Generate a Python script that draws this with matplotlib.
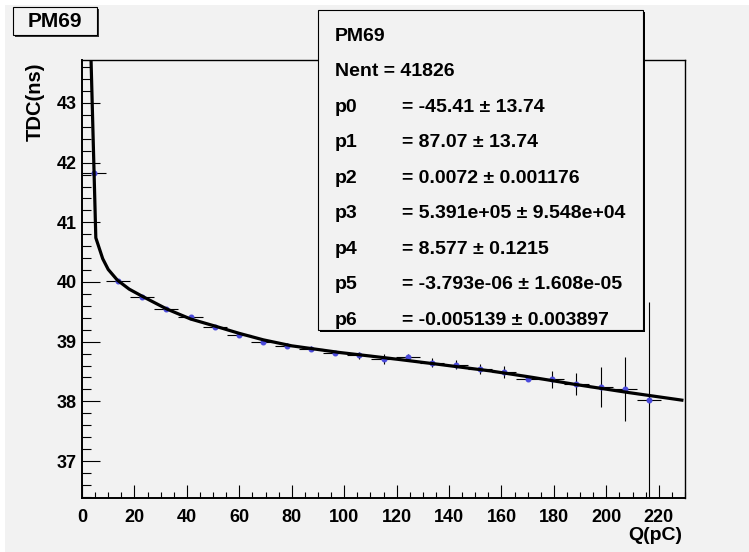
import matplotlib
matplotlib.use("Agg")
import matplotlib.pyplot as plt
import numpy as np
from matplotlib.patches import Rectangle
from matplotlib.ticker import MultipleLocator

W, H = 749, 552
BG = '#f2f2f2'

# profile points (bin centres, mean TDC, errors)
q_centers = [4.6, 13.8, 23.0, 32.2, 41.4, 50.6, 59.8, 69.0, 78.2, 87.4, 96.6, 105.8,
             115.0, 124.2, 133.4, 142.6, 151.8, 161.0, 170.2, 179.4, 188.6, 197.8, 207.0, 216.2]
tdc_mean = [41.83, 40.02, 39.74, 39.54, 39.41, 39.25, 39.11, 39.00, 38.93, 38.88, 38.81, 38.77,
            38.71, 38.75, 38.65, 38.61, 38.54, 38.49, 38.38, 38.37, 38.29, 38.24, 38.21, 38.03]
tdc_err = [0.02, 0.02, 0.02, 0.02, 0.03, 0.03, 0.03, 0.03, 0.04, 0.04, 0.04, 0.055,
           0.08, 0.04, 0.08, 0.075, 0.09, 0.10, 0.04, 0.14, 0.19, 0.34, 0.54, 1.63]
q_halfwidth = 4.6

# fitted curve
fit_q = [3.28, 5.27, 7.9, 10.0, 13.5, 18.0, 23.0, 32.2, 41.4, 50.8, 59.9, 69.2, 80.0,
         98.0, 117.5, 136.0, 155.7, 172.0, 188.6, 208.0, 228.8]
fit_tdc = [44.0, 40.74, 40.39, 40.21, 40.03, 39.88, 39.76, 39.55, 39.38, 39.26, 39.14, 39.03, 38.93,
           38.82, 38.72, 38.62, 38.51, 38.40, 38.28, 38.15, 38.02]

stat_labels = ['PM69', 'Nent = 41826', 'p0', 'p1', 'p2', 'p3', 'p4', 'p5', 'p6']
stat_values = ['', '', '= -45.41 \u00b1 13.74', '= 87.07 \u00b1 13.74', '= 0.0072 \u00b1 0.001176',
               '= 5.391e+05 \u00b1 9.548e+04', '= 8.577 \u00b1 0.1215',
               '= -3.793e-06 \u00b1 1.608e-05', '= -0.005139 \u00b1 0.003897']


def px(x, y):
    return x / W, 1 - y / H


plt.rcParams['font.family'] = ['Liberation Sans', 'DejaVu Sans']
plt.rcParams['font.weight'] = 'bold'

fig = plt.figure(figsize=(W / 100, H / 100), dpi=100, facecolor='white')
fig.patches.append(Rectangle((5 / W, 0), 1, (H - 5) / H, transform=fig.transFigure,
                             facecolor=BG, edgecolor='none', zorder=-10))

x0, y0 = px(82, 498)
x1, y1 = px(685, 60)
ax = fig.add_axes([x0, y0, x1 - x0, y1 - y0])
ax.set_facecolor(BG)

ax.errorbar(q_centers, tdc_mean, yerr=tdc_err, xerr=q_halfwidth, fmt='none',
            ecolor='black', elinewidth=0.8, capsize=0, zorder=2)
ax.plot(q_centers, tdc_mean, 'o', color='#4b4bdc', markersize=3.3, zorder=3)
ax.plot(fit_q, fit_tdc, color='black', linewidth=2.3, zorder=4)

ax.set_xlim(0, 230)
ax.set_ylim(36.38, 43.72)
ax.xaxis.set_major_locator(MultipleLocator(20))
ax.xaxis.set_minor_locator(MultipleLocator(5))
ax.yaxis.set_major_locator(MultipleLocator(1))
ax.yaxis.set_minor_locator(MultipleLocator(0.2))
ax.tick_params(axis='x', which='major', direction='in', length=9.1, width=0.8,
               labelsize=13, pad=8.0, top=False)
ax.tick_params(axis='x', which='minor', direction='in', length=4.4, width=0.8, top=False)
ax.tick_params(axis='y', which='major', direction='in', length=12.7, width=0.8,
               labelsize=13, pad=3.6, right=False)
ax.tick_params(axis='y', which='minor', direction='in', length=6.5, width=0.8, right=False)
for lab in ax.get_xticklabels() + ax.get_yticklabels():
    lab.set_fontweight('bold')
for side in ['left', 'bottom']:
    ax.spines[side].set_linewidth(1.4)
for side in ['top', 'right']:
    ax.spines[side].set_linewidth(1.0)

fig.text(*px(682.7, 535), 'Q(pC)', ha='right', va='center', fontsize=14, fontweight='bold')
fig.text(*px(35, 62), 'TDC(ns)', rotation=90, ha='center', va='top', fontsize=14.5,
         fontweight='bold')

# title box
fig.patches.append(Rectangle(px(15.3, 37), (83.4) / W, 27.7 / H, transform=fig.transFigure,
                             facecolor='#333333', edgecolor='none', zorder=5))
fig.patches.append(Rectangle(px(13.3, 35), (83.4) / W, 27.7 / H, transform=fig.transFigure,
                             facecolor=BG, edgecolor='black', linewidth=0.8, zorder=6))
fig.text(*px(55, 21.5), 'PM69', ha='center', va='center', fontsize=15, fontweight='bold',
         zorder=7)

# stats box
fig.patches.append(Rectangle(px(320, 332), 325 / W, 320 / H, transform=fig.transFigure,
                             facecolor='black', edgecolor='none', zorder=5))
fig.patches.append(Rectangle(px(318, 330), 325 / W, 320 / H, transform=fig.transFigure,
                             facecolor=BG, edgecolor='black', linewidth=0.8, zorder=6))
for i, (lab, val) in enumerate(zip(stat_labels, stat_values)):
    yb = 34.3 + i * 35.5 + 6.5
    fig.text(*px(335, yb), lab, ha='left', va='baseline', fontsize=14, fontweight='bold',
             zorder=7)
    if val:
        fig.text(*px(401.7, yb), val, ha='left', va='baseline', fontsize=14,
                 fontweight='bold', zorder=7)

fig.savefig('out.png', dpi=100, facecolor=fig.get_facecolor())
